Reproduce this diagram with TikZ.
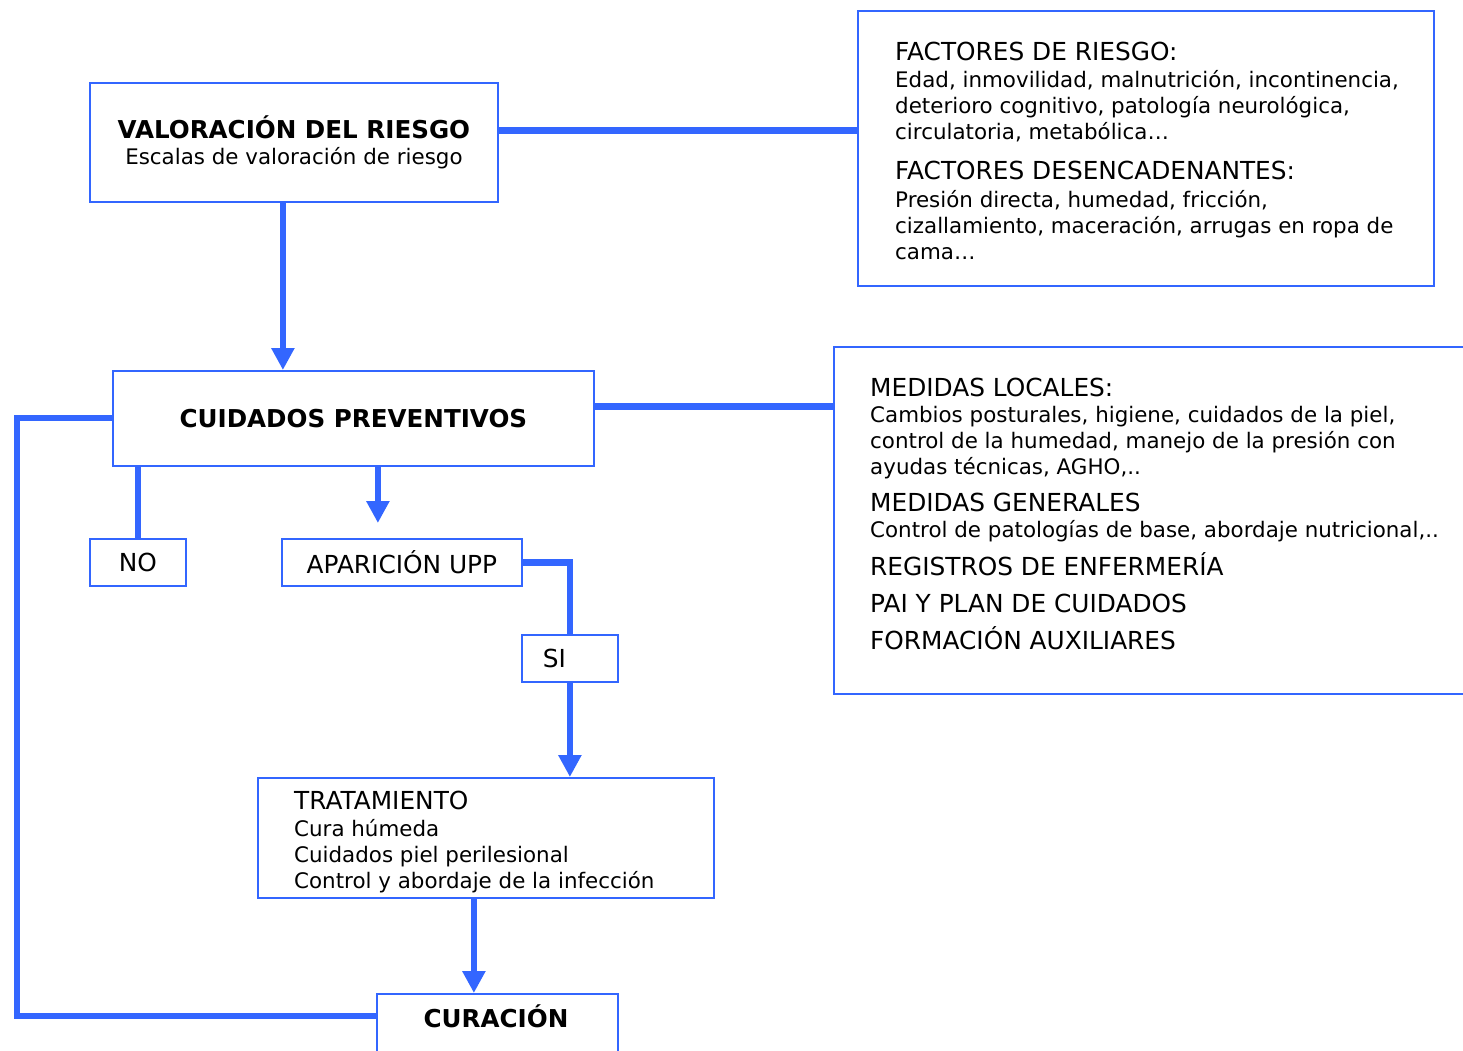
\documentclass[tikz,border=0pt]{standalone}
\usepackage{fontspec}
\setmainfont{DejaVu Sans}
\usetikzlibrary{arrows.meta}
\definecolor{upBlue}{HTML}{3366FF}
\newcommand{\cuerpo}{\fontsize{21.4}{26}\selectfont}
\newcommand{\titulo}{\fontsize{24.8}{27}\selectfont}
\newcommand{\negra}{\fontsize{24.6}{27}\selectfont\bfseries}

\tikzset{
 caja/.style={draw=upBlue, line width=1.8pt, fill=white, inner sep=0pt, anchor=north west, font=\cuerpo},
 texto/.style={align=left, anchor=north west, inner sep=0pt, font=\cuerpo},
 enlace/.style={draw=upBlue, line width=6.5pt},
 flecha/.style={enlace, -{Triangle[width=22pt,length=22pt]}},
}

\begin{document}
\begin{tikzpicture}[x=1pt,y=-1pt]
 \useasboundingbox (0,0) rectangle (1463,1050);
 \clip (0,0) rectangle (1463,1050);
 % Valoracion
 \node[caja, minimum width=408, minimum height=119, align=center] (val) at (89,82)
  {{\negra VALORACIÓN DEL RIESGO}\\ Escalas de valoración de riesgo};
 % Factores
 \node[caja, minimum width=576, minimum height=275] (fac) at (857,10) {};
 \node[texto] (facTxt) at (895,42) {{\titulo FACTORES DE RIESGO:}\\[1pt]
  Edad, inmovilidad, malnutrición, incontinencia,\\
  deterioro cognitivo, patología neurológica,\\
  circulatoria, metabólica…\\[14pt]
  {\titulo FACTORES DESENCADENANTES:}\\[2pt]
  Presión directa, humedad, fricción,\\
  cizallamiento, maceración, arrugas en ropa de\\
  cama…};
 % Cuidados
 \node[caja, minimum width=481, minimum height=95] (cui) at (112,370) {\negra CUIDADOS PREVENTIVOS};
 % Medidas
 \node[caja, minimum width=660, minimum height=347] (med) at (833,346) {};
 \node[texto] (medTxt) at (870,378) {{\titulo MEDIDAS LOCALES:}\\
  Cambios posturales, higiene, cuidados de la piel,\\
  control de la humedad, manejo de la presión con\\
  ayudas técnicas, AGHO,..\\[11pt]
  {\titulo MEDIDAS GENERALES}\\
  Control de patologías de base, abordaje nutricional,..\\[9pt]
  {\titulo REGISTROS DE ENFERMERÍA}\\[11pt]
  {\titulo PAI Y PLAN DE CUIDADOS}\\[11pt]
  {\titulo FORMACIÓN AUXILIARES}};
 % Ramas
 \node[caja, minimum width=96, minimum height=47, font=\titulo] (no) at (89,538) {NO};
 \node[caja, minimum width=240, minimum height=47, font=\titulo] (apa) at (281,538) {APARICIÓN UPP};
 \node[caja, minimum width=96, minimum height=47, font=\titulo, align=left, text width=54, inner xsep=21] (si) at (521,634) {SI};
 % Tratamiento
 \node[caja, minimum width=456, minimum height=120] (tra) at (257,777) {};
 \node[texto] (traTxt) at (294,791) {{\titulo TRATAMIENTO}\\[1pt]
  Cura húmeda\\
  Cuidados piel perilesional\\
  Control y abordaje de la infección};
 % Curacion
 \node[caja, minimum width=241, minimum height=90] (cur) at (376,993) {};
 \node[font=\negra] (curTxt) at (496,1016) {CURACIÓN};
 \coordinate (izq) at (17,418);
 % Conectores
 \draw[enlace] ([yshift=12pt]val.east) -- ([yshift=12pt]val.east -| fac.west);
 \draw[flecha] ([xshift=-11pt]val.south) -- ([xshift=-11pt]val.south |- cui.north);
 \draw[enlace] ([yshift=12pt]cui.east) -- ([yshift=12pt]cui.east -| med.west);
 \draw[enlace] (izq -| cui.west) -- (izq) |- (curTxt -| cur.west);
 \draw[enlace] (cui.south -| no.north) -- (no.north);
 \draw[flecha] ([xshift=-24pt]apa.north |- cui.south) -- ([xshift=-24pt,yshift=15pt]apa.north);
 \draw[enlace] (apa.east) -| (si.north);
 \draw[flecha] (si.south) -- (si.south |- tra.north);
 \draw[flecha] ([xshift=-12pt]tra.south) -- ([xshift=-12pt]tra.south |- cur.north);
\end{tikzpicture}
\end{document}
